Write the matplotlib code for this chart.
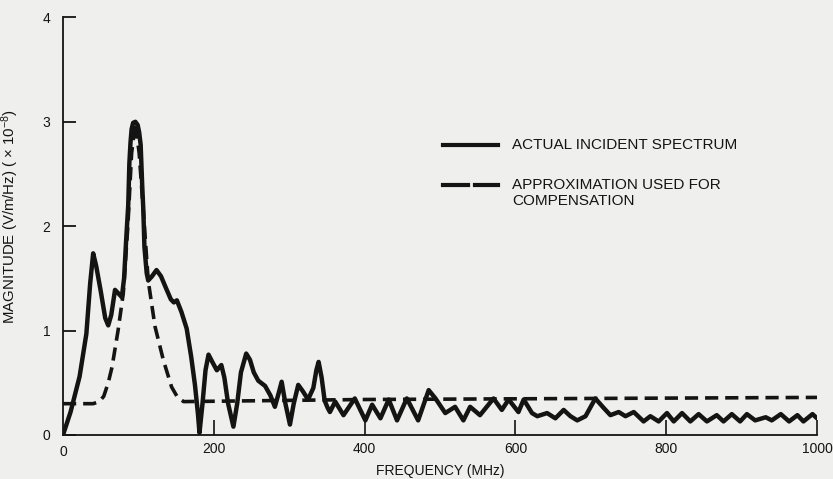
import matplotlib
matplotlib.use("Agg")
import matplotlib.pyplot as plt
from matplotlib.lines import Line2D

plt.rcParams['font.family'] = ['Liberation Sans', 'DejaVu Sans']
plt.rcParams['mathtext.default'] = 'regular'
plt.rcParams['lines.scale_dashes'] = False

# Actual incident spectrum (MHz, x 1e-8 V/m/Hz)
freq_actual = [0, 10, 22, 31, 36, 40, 44, 50, 56, 60, 64, 69, 73, 78, 81, 84, 86.5,
               88, 89.5, 91, 93, 96, 99, 101, 103, 105, 106.5, 108, 111, 113, 118,
               124, 130, 137, 143, 147, 151, 157, 164, 170, 175, 179, 181, 185, 189,
               193, 198, 204, 210, 214, 219, 226, 231, 236, 243, 248, 253, 259, 268,
               275, 281, 286, 290, 295, 301, 306, 312, 318, 325, 332, 336, 339, 343,
               347, 351, 354, 361, 372, 387, 401, 410, 421, 432, 443, 456, 471, 485,
               494, 507, 520, 531, 540, 553, 571, 582, 591, 604, 611, 622, 629, 642,
               653, 664, 673, 682, 693, 706, 717, 726, 737, 746, 757, 770, 779, 790,
               801, 810, 821, 832, 843, 854, 867, 876, 887, 898, 907, 918, 932, 940,
               952, 963, 974, 982, 994, 1000]
mag_actual = [0.0, 0.22, 0.56, 0.97, 1.45, 1.74, 1.62, 1.38, 1.12, 1.05, 1.15, 1.39,
              1.36, 1.32, 1.5, 1.9, 2.2, 2.6, 2.8, 2.93, 2.99, 3.0, 2.97, 2.9, 2.78,
              2.4, 2.16, 1.8, 1.55, 1.48, 1.52, 1.58, 1.52, 1.40, 1.30, 1.27, 1.29,
              1.18, 1.02, 0.75, 0.48, 0.2, 0.02, 0.3, 0.62, 0.77, 0.70, 0.62, 0.67,
              0.55, 0.3, 0.08, 0.3, 0.6, 0.78, 0.72, 0.6, 0.52, 0.47, 0.38, 0.27,
              0.40, 0.51, 0.3, 0.10, 0.30, 0.48, 0.42, 0.34, 0.45, 0.62, 0.70, 0.55,
              0.33, 0.26, 0.22, 0.32, 0.19, 0.35, 0.14, 0.29, 0.16, 0.34, 0.14, 0.35,
              0.14, 0.43, 0.35, 0.21, 0.27, 0.14, 0.27, 0.19, 0.35, 0.24, 0.34, 0.22,
              0.34, 0.21, 0.18, 0.21, 0.16, 0.24, 0.18, 0.14, 0.18, 0.35, 0.26, 0.19,
              0.22, 0.18, 0.22, 0.13, 0.18, 0.13, 0.21, 0.13, 0.21, 0.13, 0.20, 0.13,
              0.19, 0.13, 0.20, 0.13, 0.20, 0.14, 0.17, 0.14, 0.20, 0.13, 0.19, 0.13,
              0.20, 0.16]

# Approximation used for compensation
freq_approx = [0, 40, 48, 54, 60, 65, 73, 80, 86, 91, 96, 101, 107, 113, 122, 133,
               144, 152, 160, 400, 1000]
mag_approx = [0.30, 0.30, 0.32, 0.37, 0.5, 0.65, 1.0, 1.36, 2.0, 2.7, 2.99, 2.7, 2.1,
              1.48, 1.04, 0.72, 0.46, 0.36, 0.32, 0.34, 0.36]

x_ticks = [200, 400, 600, 800, 1000]
y_ticks = [0, 1, 2, 3, 4]

bg = '#efefed'
ink = '#141414'
narrow = ['Liberation Sans Narrow', 'Liberation Sans']

fig = plt.figure(figsize=(8.33, 4.79), dpi=100, facecolor=bg)
ax = fig.add_axes([63 / 833, 44 / 479, 754 / 833, 417.6 / 479])
ax.set_facecolor(bg)

ax.plot(freq_approx, mag_approx, color=ink, lw=2.6, dashes=(9.5, 5.0))
ax.plot(freq_actual, mag_actual, color=ink, lw=3.2, solid_joinstyle='round',
        solid_capstyle='round')

ax.set_xlim(0, 1000)
ax.set_ylim(0, 4)
ax.set_xticks(x_ticks)
ax.set_yticks(y_ticks)
ax.text(0, -0.1, '0', ha='center', va='top', fontsize=10, color=ink, family=narrow)
for s in ['top', 'right']:
    ax.spines[s].set_visible(False)
for s in ['left', 'bottom']:
    ax.spines[s].set_linewidth(1.3)
    ax.spines[s].set_color(ink)
ax.tick_params(axis='y', direction='in', length=9, width=1.3, pad=9,
               labelsize=10, colors=ink)
ax.tick_params(axis='x', direction='in', length=11, width=1.2, pad=5,
               labelsize=10, colors=ink)
for lab in ax.get_xticklabels():
    lab.set_family(narrow)

ax.set_xlabel('FREQUENCY (MHz)', fontsize=10, color=ink, labelpad=6, family=narrow)
ax.set_ylabel('MAGNITUDE (V/m/Hz) ( × 10$^{-8}$)', fontsize=10.8, color=ink)
ax.yaxis.set_label_coords(-0.056, 0.524)

# legend drawn by hand to keep the two-line label layout
def fy(py):
    return 1 - py / 479

fig.add_artist(Line2D([443 / 833, 498 / 833], [fy(145), fy(145)], color=ink, lw=3.0,
                      transform=fig.transFigure))
fig.add_artist(Line2D([443 / 833, 468 / 833], [fy(185), fy(185)], color=ink, lw=3.0,
                      transform=fig.transFigure))
fig.add_artist(Line2D([475 / 833, 498 / 833], [fy(185), fy(185)], color=ink, lw=3.0,
                      transform=fig.transFigure))
fig.text(512 / 833, fy(145), 'ACTUAL INCIDENT SPECTRUM', fontsize=11, color=ink,
         va='center')
fig.text(512 / 833, fy(185), 'APPROXIMATION USED FOR', fontsize=11, color=ink,
         va='center')
fig.text(512 / 833, fy(201), 'COMPENSATION', fontsize=11, color=ink, va='center')

fig.savefig('out.png', dpi=100, facecolor=bg)
